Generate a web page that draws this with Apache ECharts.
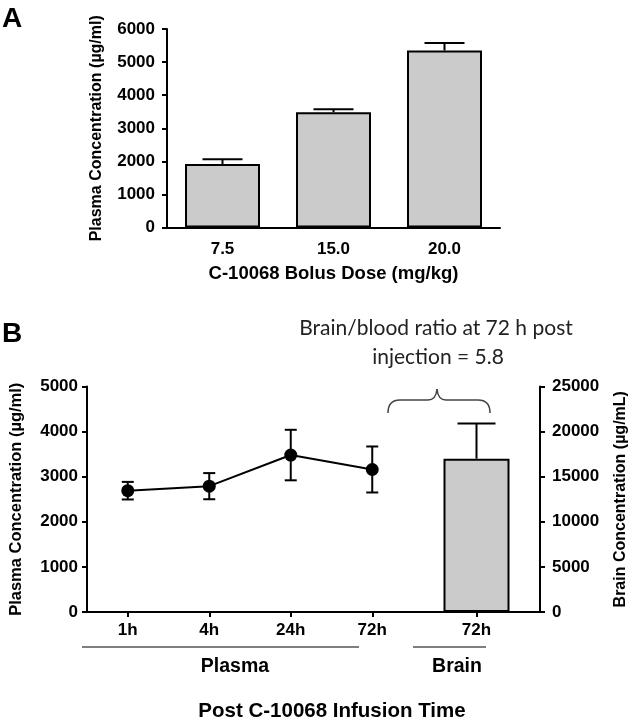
<!DOCTYPE html>
<html>
<head>
<meta charset="utf-8">
<script src="https://cdn.jsdelivr.net/npm/echarts@6/dist/echarts.min.js"></script>
<style>html,body{margin:0;padding:0;background:#fff}#c{width:633px;height:720px}</style>
</head>
<body>
<div id="c"></div>
<script>
// Panel A
const doseLabels = ['7.5', '15.0', '20.0'];
const doseMeans = [1920, 3485, 5350];
const doseErr = [140, 90, 225];
const yTicksA = [0, 6000, 1000];
// Panel B
const timeLabels = ['1h', '4h', '24h', '72h'];
const plasmaMeans = [2690, 2790, 3480, 3160];
const plasmaErr = [195, 290, 560, 510];
const brainLabels = ['72h'];
const brainMeans = [17000];
const brainErr = [3900];

const FONT = '"Liberation Sans", Arial, sans-serif';
const black = '#000';

function errSeries(xi, yi, means, errs, capHalf, both) {
  return {
    type: 'custom', xAxisIndex: xi, yAxisIndex: yi, z: 1,
    data: means.map((m, i) => [i, m, m + errs[i], m - errs[i]]),
    renderItem: function (params, api) {
      const x = api.value(0);
      const m = api.value(1), hi = api.value(2), lo = api.value(3);
      const pHi = api.coord([x, hi]);
      const pM = api.coord([x, m]);
      const pLo = api.coord([x, lo]);
      const st = { stroke: black, lineWidth: 2 };
      const end = both ? pLo : pM;
      const ch = [
        { type: 'line', shape: { x1: pHi[0], y1: pHi[1], x2: end[0], y2: end[1] }, style: st },
        { type: 'line', shape: { x1: pHi[0] - capHalf, y1: pHi[1], x2: pHi[0] + capHalf, y2: pHi[1] }, style: st }
      ];
      if (both) ch.push({ type: 'line', shape: { x1: pLo[0] - capHalf, y1: pLo[1], x2: pLo[0] + capHalf, y2: pLo[1] }, style: st });
      return { type: 'group', children: ch };
    }
  };
}

const axisLabel = (m) => ({ color: black, fontFamily: FONT, fontWeight: 'bold', fontSize: 17, margin: m, formatter: v => String(v) });
const axisLine = { show: true, lineStyle: { color: black, width: 2 } };
const braceStyle = { stroke: '#444', lineWidth: 1.5, fill: null };
const ANN_FONT = '21px Lato, "Open Sans", sans-serif';

const chart = echarts.init(document.getElementById('c'));
chart.setOption({
  animation: false,
  grid: [
    { left: 167, top: 29, width: 333, height: 198.5 },
    { left: 83, top: 386.5, width: 330, height: 225.5 },
    { left: 413, top: 386.5, width: 127, height: 225.5 }
  ],
  xAxis: [
    { gridIndex: 0, type: 'category', data: doseLabels, axisLine: axisLine, axisTick: { show: false },
      axisLabel: axisLabel(13),
      name: 'C-10068 Bolus Dose (mg/kg)', nameLocation: 'middle', nameGap: 37,
      nameTextStyle: { color: black, fontFamily: FONT, fontWeight: 'bold', fontSize: 18.5 } },
    { gridIndex: 1, type: 'category', data: timeLabels, axisLine: axisLine,
      axisTick: { show: true, alignWithLabel: true, length: 5, lineStyle: { color: black, width: 2 } },
      axisLabel: axisLabel(10) },
    { gridIndex: 2, type: 'category', data: brainLabels, axisLine: axisLine,
      axisTick: { show: true, alignWithLabel: true, length: 5, lineStyle: { color: black, width: 2 } },
      axisLabel: axisLabel(10) }
  ],
  yAxis: [
    { gridIndex: 0, type: 'value', min: yTicksA[0], max: yTicksA[1], interval: yTicksA[2],
      axisLine: axisLine, axisTick: { show: true, length: 5, lineStyle: { color: black, width: 2 } },
      splitLine: { show: false }, axisLabel: axisLabel(12),
      name: 'Plasma Concentration (µg/ml)', nameLocation: 'middle', nameGap: 62,
      nameTextStyle: { color: black, fontFamily: FONT, fontWeight: 'bold', fontSize: 16 } },
    { gridIndex: 1, type: 'value', min: 0, max: 5000, interval: 1000,
      axisLine: axisLine, axisTick: { show: true, length: 5, lineStyle: { color: black, width: 2 } },
      splitLine: { show: false }, axisLabel: axisLabel(9),
      name: 'Plasma Concentration (µg/ml)', nameLocation: 'middle', nameGap: 62,
      nameTextStyle: { color: black, fontFamily: FONT, fontWeight: 'bold', fontSize: 16.5 } },
    { gridIndex: 2, type: 'value', position: 'right', min: 0, max: 25000, interval: 5000,
      axisLine: axisLine, axisTick: { show: true, length: 5, lineStyle: { color: black, width: 2 } },
      splitLine: { show: false }, axisLabel: axisLabel(12),
      name: 'Brain Concentration (µg/mL)', nameLocation: 'middle', nameGap: 73,
      nameTextStyle: { color: black, fontFamily: FONT, fontWeight: 'bold', fontSize: 16 } }
  ],
  series: [
    { type: 'bar', xAxisIndex: 0, yAxisIndex: 0, data: doseMeans, barWidth: 75, z: 2,
      itemStyle: { color: '#cbcbcb', borderColor: black, borderWidth: 2 } },
    errSeries(0, 0, doseMeans, doseErr, 20, false),
    { type: 'line', xAxisIndex: 1, yAxisIndex: 1, data: plasmaMeans, symbol: 'circle', symbolSize: 13, z: 3,
      itemStyle: { color: black }, lineStyle: { color: black, width: 2 } },
    errSeries(1, 1, plasmaMeans, plasmaErr, 6, true),
    { type: 'bar', xAxisIndex: 2, yAxisIndex: 2, data: brainMeans, barWidth: 66, z: 2,
      itemStyle: { color: '#cbcbcb', borderColor: black, borderWidth: 2 } },
    errSeries(2, 2, brainMeans, brainErr, 19, false)
  ],
  graphic: [
    { type: 'text', x: 2, y: 5, style: { text: 'A', font: 'bold 28px ' + FONT, fill: black } },
    { type: 'text', x: 2, y: 320, style: { text: 'B', font: 'bold 28px ' + FONT, fill: black } },
    { type: 'text', x: 436, y: 328, style: { text: 'Brain/blood ratio at 72 h post', font: ANN_FONT, fill: '#222', align: 'center', verticalAlign: 'middle' } },
    { type: 'text', x: 438, y: 357, style: { text: 'injection = 5.8', font: ANN_FONT, fill: '#222', align: 'center', verticalAlign: 'middle' } },
    { type: 'bezierCurve', shape: { x1: 388, y1: 413, cpx1: 388, cpy1: 400, x2: 400, y2: 400 }, style: braceStyle },
    { type: 'line', shape: { x1: 400, y1: 400, x2: 428, y2: 400 }, style: braceStyle },
    { type: 'bezierCurve', shape: { x1: 428, y1: 400, cpx1: 436, cpy1: 400, x2: 437, y2: 389 }, style: braceStyle },
    { type: 'bezierCurve', shape: { x1: 437, y1: 389, cpx1: 438, cpy1: 400, x2: 446, y2: 400 }, style: braceStyle },
    { type: 'line', shape: { x1: 446, y1: 400, x2: 478, y2: 400 }, style: braceStyle },
    { type: 'bezierCurve', shape: { x1: 478, y1: 400, cpx1: 490, cpy1: 400, x2: 490, y2: 413 }, style: braceStyle },
    { type: 'line', shape: { x1: 82, y1: 647, x2: 359, y2: 647 }, style: { stroke: '#555', lineWidth: 1.5 } },
    { type: 'line', shape: { x1: 413, y1: 647, x2: 486, y2: 647 }, style: { stroke: '#555', lineWidth: 1.5 } },
    { type: 'text', x: 235, y: 667, style: { text: 'Plasma', font: 'bold 19.5px ' + FONT, fill: black, align: 'center', verticalAlign: 'middle' } },
    { type: 'text', x: 457, y: 667, style: { text: 'Brain', font: 'bold 19.5px ' + FONT, fill: black, align: 'center', verticalAlign: 'middle' } },
    { type: 'text', x: 332, y: 711, style: { text: 'Post C-10068 Infusion Time', font: 'bold 20.5px ' + FONT, fill: black, align: 'center', verticalAlign: 'middle' } }
  ]
});
</script>
</body>
</html>
